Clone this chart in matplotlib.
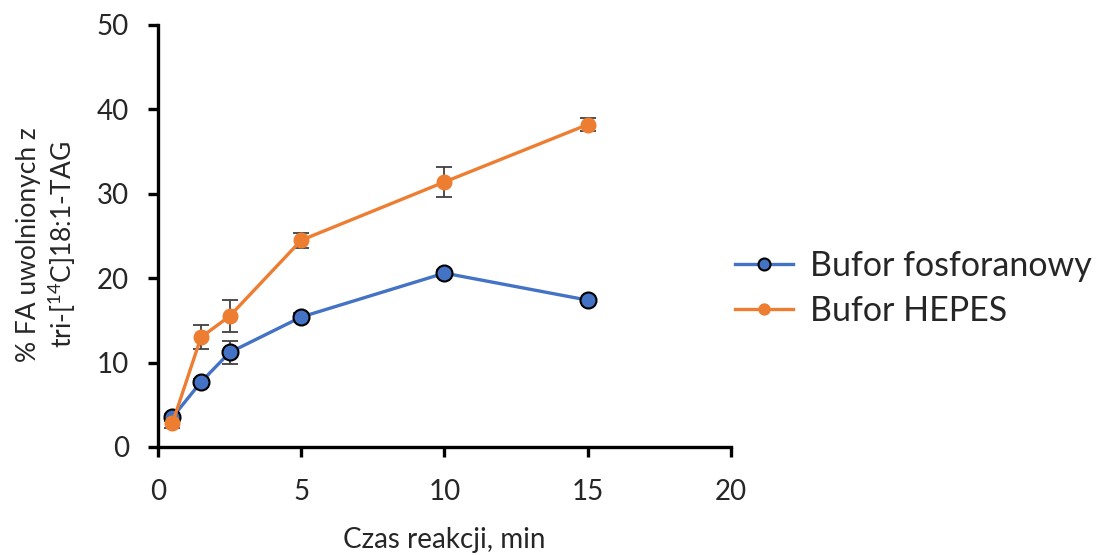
import matplotlib.pyplot as plt

plt.rcParams['font.family'] = ['Lato', 'DejaVu Sans']
plt.rcParams['mathtext.fontset'] = 'custom'
plt.rcParams['mathtext.rm'] = 'Lato'

# czas reakcji [min]
czas = [0.5, 1.5, 2.5, 5, 10, 15]

fosforanowy = [3.5, 7.7, 11.2, 15.4, 20.6, 17.4]
fosforanowy_err = [0.4, 0.4, 1.4, 0.5, 0.4, 0.3]

hepes = [2.8, 13.0, 15.5, 24.5, 31.4, 38.2]
hepes_err = [0.6, 1.4, 1.9, 0.9, 1.8, 0.8]

niebieski = '#4472C4'
pomaranczowy = '#ED7D31'
tekst = '#262626'

fig = plt.figure(figsize=(11.02, 5.55), dpi=100)
ax = fig.add_axes([0.1434, 0.1946, 0.5199, 0.7604])

# slupki bledow pod markerami
ax.errorbar(czas, fosforanowy, yerr=fosforanowy_err, fmt='none',
            ecolor='#404040', elinewidth=1.3, capsize=6, capthick=1.3, zorder=2)
ax.errorbar(czas, hepes, yerr=hepes_err, fmt='none',
            ecolor='#404040', elinewidth=1.3, capsize=6, capthick=1.3, zorder=2)

ax.plot(czas, fosforanowy, color=niebieski, lw=2.4, marker='o', ms=11.5,
        mfc=niebieski, mec='black', mew=1.5, label='Bufor fosforanowy', zorder=3)
ax.plot(czas, hepes, color=pomaranczowy, lw=2.4, marker='o', ms=10.5,
        mfc=pomaranczowy, mec=pomaranczowy, label='Bufor HEPES', zorder=3)

ax.set_xlim(0, 20)
ax.set_ylim(0, 50)
ax.set_xticks([0, 5, 10, 15, 20])
ax.set_yticks([0, 10, 20, 30, 40, 50])

for side in ['top', 'right']:
    ax.spines[side].set_visible(False)
for side in ['left', 'bottom']:
    ax.spines[side].set_linewidth(2.4)
ax.tick_params(direction='out', length=7, width=2.4, labelsize=20,
               colors='black', labelcolor=tekst)
ax.tick_params(axis='x', pad=16)
ax.tick_params(axis='y', pad=14)

ax.set_xlabel('Czas reakcji, min', fontsize=20, labelpad=16, color=tekst)
ax.set_ylabel('% FA uwolnionych z\ntri-[$^{14}$C]18:1-TAG', fontsize=19,
              color=tekst, linespacing=1.15)
ax.yaxis.set_label_coords(-0.14, 0.48)

fig.legend(*ax.get_legend_handles_labels(), loc='center left',
           bbox_to_anchor=(0.667, 0.48), frameon=False, fontsize=24.5,
           handlelength=1.7, handletextpad=0.5, labelspacing=0.4,
           borderpad=0, borderaxespad=0, markerscale=0.75, labelcolor=tekst)

fig.savefig('out.png', dpi=100)
